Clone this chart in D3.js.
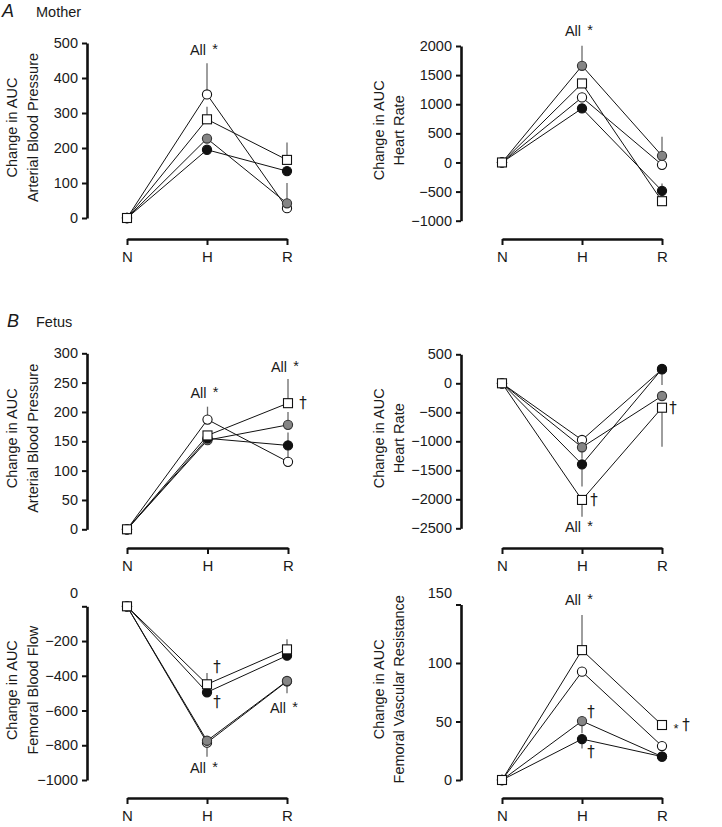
<!DOCTYPE html>
<html>
<head>
<meta charset="utf-8">
<script src="https://cdnjs.cloudflare.com/ajax/libs/d3/7.8.5/d3.min.js"></script>
<style>
  body { margin: 0; background: #fff; }
  text { font-family: "Liberation Sans", Arial, sans-serif; fill: #1a1a1a; }
</style>
</head>
<body>
<div id="chart"></div>
<script>
// x categories: normoxia, hypoxia, recovery
var categories = ["N", "H", "R"];
// series order: open circle, grey circle, black circle, open square
var seriesKinds = ["open", "grey", "black", "square"];

// Mother - arterial blood pressure
var motherBP = [[0, 353, 28], [0, 227, 42], [0, 195, 134], [0, 282, 166]];
var motherBPErr = [[null, 442, null], [null, null, 100], [null, null, null], [null, 318, 216]];
var motherBPTicks = [0, 100, 200, 300, 400, 500];
var motherBPNotes = [{cat: "H", v: 466, kind: "all"}];

// Mother - heart rate
var motherHR = [[0, 1117, -41], [0, 1660, 114], [0, 928, -487], [0, 1357, -665]];
var motherHRErr = [[null, null, null], [null, 2003, 440], [null, null, -360], [null, null, null]];
var motherHRTicks = [-1000, -500, 0, 500, 1000, 1500, 2000];
var motherHRNotes = [{cat: "H", v: 2170, kind: "all"}];

// Fetus - arterial blood pressure
var fetusBP = [[0, 187, 115], [0, 152, 178], [0, 155, 143], [0, 160, 215]];
var fetusBPErr = [[null, 209, 150], [null, null, 200], [null, null, 165], [null, null, 256]];
var fetusBPTicks = [0, 50, 100, 150, 200, 250, 300];
var fetusBPNotes = [
  {cat: "H", v: 224, kind: "all"},
  {cat: "R", v: 268, kind: "all"},
  {cat: "R", v: 215, kind: "dagger", dx: 15}
];

// Fetus - heart rate
var fetusHR = [[0, -977, 240], [0, -1103, -219], [0, -1397, 247], [0, -2011, -421]];
var fetusHRErr = [[null, null, null], [null, -1300, null], [null, -1780, -30], [null, -2300, -1093]];
var fetusHRTicks = [-2500, -2000, -1500, -1000, -500, 0, 500];
var fetusHRNotes = [
  {cat: "H", v: -2559, kind: "all"},
  {cat: "H", v: -2011, kind: "dagger", dx: 12},
  {cat: "R", v: -421, kind: "dagger", dx: 11}
];

// Fetus - femoral blood flow
var fetusFBF = [[0, -785, -432], [0, -774, -430], [0, -495, -284], [0, -449, -248]];
var fetusFBFErr = [[null, null, null], [null, -866, -500], [null, null, -300], [null, -384, -190]];
var fetusFBFTicks = [-1000, -800, -600, -400, -200, 0];
var fetusFBFNotes = [
  {cat: "R", v: -616, kind: "all"},
  {cat: "H", v: -958, kind: "all"},
  {cat: "H", v: -348, kind: "dagger", dx: 10},
  {cat: "H", v: -549, kind: "dagger", dx: 10}
];

// Fetus - femoral vascular resistance
var fetusFVR = [[0, 92.6, 29], [0, 50.4, 20], [0, 35, 20], [0, 111, 47]];
var fetusFVRErr = [[null, null, null], [null, 40, null], [null, 27, 16], [null, 141, null]];
var fetusFVRTicks = [0, 50, 100, 150];
var fetusFVRNotes = [
  {cat: "H", v: 149.6, kind: "all"},
  {cat: "H", v: 58.4, kind: "dagger", dx: 9},
  {cat: "H", v: 24, kind: "dagger", dx: 9},
  {cat: "R", v: 47, kind: "star", dx: 14},
  {cat: "R", v: 47, kind: "dagger", dx: 24}
];

// Panel layout (pixel placement of each small chart)
var panels = [
  {data: motherBP, err: motherBPErr, ticks: motherBPTicks, notes: motherBPNotes,
   title: ["Change in AUC", "Arterial Blood Pressure"], titleX: [17, 38],
   axisX: 87, xRange: [127, 287], yRange: [218, 43], barY: 239},
  {data: motherHR, err: motherHRErr, ticks: motherHRTicks, notes: motherHRNotes,
   title: ["Change in AUC", "Heart Rate"], titleX: [384, 404],
   axisX: 461, xRange: [502, 662], yRange: [220.7, 46], barY: 239},
  {data: fetusBP, err: fetusBPErr, ticks: fetusBPTicks, notes: fetusBPNotes,
   title: ["Change in AUC", "Arterial Blood Pressure"], titleX: [17, 38],
   axisX: 87, xRange: [127, 288], yRange: [529.3, 353.3], barY: 548},
  {data: fetusHR, err: fetusHRErr, ticks: fetusHRTicks, notes: fetusHRNotes,
   title: ["Change in AUC", "Heart Rate"], titleX: [384, 404],
   axisX: 461, xRange: [502, 662], yRange: [528.3, 354.3], barY: 548},
  {data: fetusFBF, err: fetusFBFErr, ticks: fetusFBFTicks, notes: fetusFBFNotes,
   title: ["Change in AUC", "Femoral Blood Flow"], titleX: [17, 38],
   axisX: 87, xRange: [127, 287], yRange: [780, 606.3], barY: 798, topShift: -13},
  {data: fetusFVR, err: fetusFVRErr, ticks: fetusFVRTicks, notes: fetusFVRNotes,
   title: ["Change in AUC", "Femoral Vascular Resistance"], titleX: [384, 404],
   axisX: 461, xRange: [502, 662], yRange: [780, 604.5], barY: 798, topShift: -12}
];

var svgWidth = 722;
var svgHeight = 827;

var svg = d3.select("#chart")
  .append("svg")
  .attr("width", svgWidth)
  .attr("height", svgHeight);

// Section headings
function heading(letter, label, x, y) {
  svg.append("text")
    .attr("x", x).attr("y", y)
    .attr("font-size", "18px")
    .attr("font-style", "italic")
    .text(letter);
  svg.append("text")
    .attr("x", 36).attr("y", y)
    .attr("font-size", "14.5px")
    .text(label);
}
heading("A", "Mother", 2, 17);
heading("B", "Fetus", 7, 327);

var fmt = d3.format("d");

panels.forEach(function(p) {
  var g = svg.append("g");

  var x = d3.scalePoint().domain(categories).range(p.xRange);
  var y = d3.scaleLinear().domain(d3.extent(p.ticks)).range(p.yRange);

  // y axis
  var yAxis = g.append("g")
    .attr("transform", `translate(${p.axisX},0)`)
    .call(d3.axisLeft(y).tickValues(p.ticks).tickFormat(fmt)
      .tickSize(5).tickSizeOuter(0).tickPadding(4));
  yAxis.select(".domain").attr("stroke", "#111").attr("stroke-width", 2.6);
  yAxis.selectAll(".tick line").attr("stroke", "#111").attr("stroke-width", 2);
  yAxis.selectAll(".tick text")
    .attr("font-size", "14.5px")
    .attr("font-family", null)
    .attr("fill", "#1a1a1a");
  if (p.topShift) {
    var top = d3.max(p.ticks);
    yAxis.selectAll(".tick").filter(function(d) { return d === top; })
      .select("text").attr("y", p.topShift);
  }

  // x axis bar below the plot
  var xAxis = g.append("g")
    .attr("transform", `translate(0,${p.barY})`)
    .call(d3.axisBottom(x).tickSize(6).tickSizeOuter(0).tickPadding(6));
  xAxis.select(".domain").attr("stroke", "#111").attr("stroke-width", 2.6);
  xAxis.selectAll(".tick line").attr("stroke", "#111").attr("stroke-width", 2);
  xAxis.selectAll(".tick text")
    .attr("font-size", "15px")
    .attr("font-family", null)
    .attr("fill", "#1a1a1a");

  // axis title (two lines, rotated)
  var yc = (p.yRange[0] + p.yRange[1]) / 2 - 3;
  p.title.forEach(function(t, i) {
    g.append("text")
      .attr("transform", `translate(${p.titleX[i]},${yc}) rotate(-90)`)
      .attr("text-anchor", "middle")
      .attr("font-size", "14.5px")
      .text(t);
  });

  // error bars
  p.err.forEach(function(row, s) {
    row.forEach(function(e, i) {
      if (e === null) return;
      g.append("line")
        .attr("x1", x(categories[i])).attr("x2", x(categories[i]))
        .attr("y1", y(p.data[s][i])).attr("y2", y(e))
        .attr("stroke", "#6a6a6a")
        .attr("stroke-width", 1.3);
    });
  });

  // connecting lines
  var line = d3.line()
    .x(function(d, i) { return x(categories[i]); })
    .y(function(d) { return y(d); });
  p.data.forEach(function(row) {
    g.append("path")
      .datum(row)
      .attr("d", line)
      .attr("fill", "none")
      .attr("stroke", "#111")
      .attr("stroke-width", 1);
  });

  // markers
  p.data.forEach(function(row, s) {
    var kind = seriesKinds[s];
    row.forEach(function(v, i) {
      if (kind === "square") {
        g.append("rect")
          .attr("x", x(categories[i]) - 4.5).attr("y", y(v) - 4.5)
          .attr("width", 9).attr("height", 9)
          .attr("fill", "#fff").attr("stroke", "#111").attr("stroke-width", 1.1);
      } else {
        g.append("circle")
          .attr("cx", x(categories[i])).attr("cy", y(v))
          .attr("r", 4.6)
          .attr("fill", kind === "open" ? "#fff" : kind === "grey" ? "#858585" : "#111")
          .attr("stroke", kind === "grey" ? "#333" : "#111")
          .attr("stroke-width", 1.1);
      }
    });
  });

  // significance annotations
  p.notes.forEach(function(n) {
    var nx = x(n.cat);
    var ny = y(n.v);
    if (n.kind === "all") {
      g.append("text")
        .attr("x", nx - 1).attr("y", ny)
        .attr("text-anchor", "end")
        .attr("font-size", "14.5px")
        .text("All");
      g.append("text")
        .attr("x", nx + 8).attr("y", ny - 1)
        .attr("text-anchor", "middle")
        .attr("font-size", "14.5px")
        .text("*");
    } else if (n.kind === "star") {
      g.append("text")
        .attr("x", nx + n.dx).attr("y", ny + 8)
        .attr("text-anchor", "middle")
        .attr("font-size", "13px")
        .text("*");
    } else {
      g.append("text")
        .attr("x", nx + n.dx).attr("y", ny + 5)
        .attr("text-anchor", "middle")
        .attr("font-size", "15px")
        .style("font-family", "'DejaVu Sans', sans-serif")
        .style("fill", "#1a1a1a")
        .text("\u2020");
    }
  });
});
</script>
</body>
</html>
